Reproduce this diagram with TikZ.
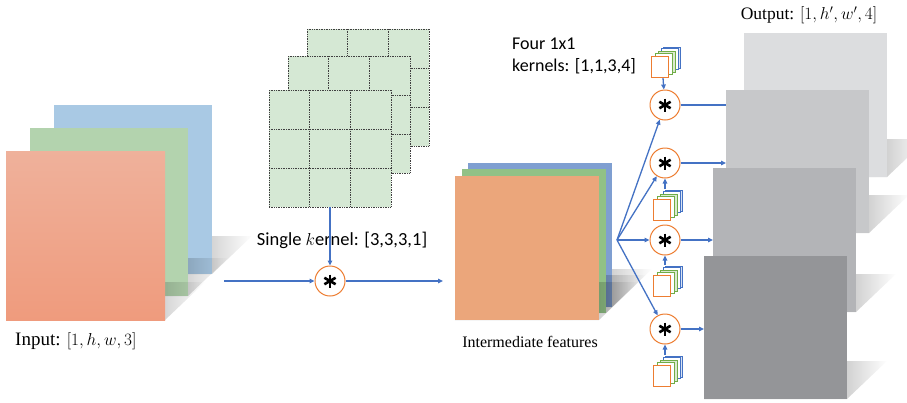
\documentclass[tikz,border=0pt]{standalone}
\usepackage{fontspec}
\setmainfont{Carlito}
\newfontfamily\serif{Liberation Serif}
\usetikzlibrary{arrows.meta,fadings}

\definecolor{linkblue}{HTML}{4472C4}
\definecolor{convorange}{HTML}{ED7D31}
\definecolor{inblue}{HTML}{A9C9E4}
\definecolor{ingreen}{HTML}{B3D3AE}
\definecolor{inorangetop}{HTML}{EFB19B}
\definecolor{inorangebot}{HTML}{EF9B7D}
\definecolor{kerngreen}{HTML}{D5E8D4}
\definecolor{midblue}{HTML}{7F9FD1}
\definecolor{midgreen}{HTML}{91C186}
\definecolor{midorange}{HTML}{EBA67B}
\definecolor{outA}{HTML}{DCDDDF}
\definecolor{outB}{HTML}{C7C8CA}
\definecolor{outC}{HTML}{B3B4B7}
\definecolor{outD}{HTML}{949598}
\definecolor{cubegreen}{HTML}{70AD47}

% soft cast shadow: opaque on the left, dying out towards the right
\pgfdeclarehorizontalshading{shadowmask}{100bp}{color(0bp)=(transparent!0); color(25bp)=(transparent!0); color(52bp)=(transparent!15); color(64bp)=(transparent!45); color(75bp)=(transparent!100); color(100bp)=(transparent!100)}
\pgfdeclarefading{shadowfade}{\pgfuseshading{shadowmask}}

\tikzset{
  panelbox/.style={rectangle, inner sep=0pt, outer sep=0pt, draw=none, anchor=north west},
  shadowfill/.style={fill=black, opacity=0.32, path fading=shadowfade},
  link/.style={draw=linkblue, line width=1.3pt},
  linkarrow/.style={link, -{Triangle[length=5pt,width=4.5pt]}},
  convnode/.style={circle, draw=convorange, line width=1pt, fill=white, minimum size=30pt, inner sep=0pt},
  asteriskarm/.style={line width=2.6pt, black},
  gridline/.style={densely dotted, draw=black!75, line width=0.7pt},
  cubeface/.style={line width=0.8pt, fill=white},
}

% panel: name, x0, y0, x1, y1, extra style
\newcommand\panel[6]{%
  \node[panelbox, minimum width={#4pt-#2pt}, minimum height={#5pt-#3pt}, #6] (#1) at (#2,#3) {};}
% cast shadow under a panel: x0, x1, bottom y
\newcommand\castshadow[3]{%
  \fill[shadowfill] (#1,#3) -- (#2,#3) -- ({#2+40},{#3-38}) -- ({#1+40},{#3-38}) -- cycle;}
% 3x3 kernel slice: name, x0, y0
\newcommand\kernelslice[3]{%
  \node[panelbox, fill=kerngreen, minimum width=122pt, minimum height=117pt] (#1) at (#2,#3) {};
  \foreach \i in {0,1,2,3} {
    \draw[gridline] ({#2+\i*122/3},#3) -- ({#2+\i*122/3},{#3+117});
    \draw[gridline] (#2,{#3+\i*39}) -- ({#2+122},{#3+\i*39});
  }}
% convolution operator: name, position
\newcommand\convop[2]{%
  \node[convnode] (#1) at (#2) {};
  \foreach \a in {90,30,150}
    \draw[asteriskarm] ([shift={(\a:6.5pt)}]#1.center) -- ([shift={(\a+180:6.5pt)}]#1.center);}
% stack of four 1x1 kernels: name, x, y of the front face
\newcommand\kcube[3]{%
  \begin{scope}[shift={(#2,#3)}]
    \draw[cubeface, draw=linkblue, fill=linkblue!20] (12,-9) rectangle ++(17,21);
    \draw[cubeface, draw=linkblue] (10,-7.5) rectangle ++(17,21);
    \draw[cubeface, draw=cubegreen, fill=cubegreen!25] (7,-5) rectangle ++(17,21);
    \draw[cubeface, draw=cubegreen] (4,-2.5) rectangle ++(17,21);
    \draw[cubeface, draw=convorange] (0,0) rectangle ++(17,21);
  \end{scope}
  \coordinate (#1top) at ({#2+12},{#3-10});
  \coordinate (#1bot) at ({#2+12},{#3+22});}

\begin{document}
\begin{tikzpicture}[x=1pt, y=-1pt]
\fill[white] (0,0) rectangle (907,402);
\useasboundingbox (0,0) rectangle (907,402);

% ---------- input tensor ----------
\castshadow{54}{212}{274}
\panel{inB}{54}{105}{212}{274}{fill=inblue}
\castshadow{30}{188}{296}
\panel{inG}{30}{128}{188}{296}{fill=ingreen}
\castshadow{6}{165}{320}
\panel{inO}{6}{151}{165}{320}{top color=inorangetop, bottom color=inorangebot}
\node[font=\serif\fontsize{19}{22}\selectfont, anchor=west, inner sep=0pt] (inlbl) at (15,341) {Input: $[1,h,w,3]$};

% ---------- single 3x3x3 kernel ----------
\kernelslice{kA}{307}{29}
\kernelslice{kB}{288}{56}
\kernelslice{kC}{269}{90}
\node[font=\fontsize{18.5}{22}\selectfont] (klbl) at (342,240) {Single $k$ernel: [3,3,3,1]};

\convop{conv}{330,281}
\coordinate (inout) at (224,281);
\coordinate (midin) at (443,281);
\draw[linkarrow] (inout) -- (conv);
\draw[linkarrow] (kC.south -| conv) -- (conv);
\draw[linkarrow] (conv) -- (midin);

% ---------- intermediate features ----------
\castshadow{468}{612}{307}
\panel{mB}{468}{163}{612}{307}{fill=midblue}
\castshadow{462}{606}{313}
\panel{mG}{462}{169}{606}{313}{fill=midgreen}
\castshadow{455}{599}{320}
\panel{mO}{455}{176}{599}{320}{fill=midorange}
\node[font=\serif\fontsize{16}{19}\selectfont] (midlbl) at (530,342) {Intermediate features};

% ---------- output tensor ----------
\castshadow{744}{887}{177}
\panel{o1}{744}{33}{887}{177}{fill=outA}
\castshadow{726}{869}{233}
\panel{o2}{726}{90}{869}{233}{fill=outB}
\castshadow{713}{856}{312}
\panel{o3}{713}{168}{856}{312}{fill=outC}
\castshadow{704}{847}{399}
\panel{o4}{704}{256}{847}{399}{fill=outD}
\node[font=\serif\fontsize{17.5}{20}\selectfont] (outlbl) at (809,15) {Output: $[1,h',w',4]$};

% ---------- four 1x1 convolutions ----------
\node[font=\fontsize{18}{22}\selectfont, anchor=north west, align=left, inner sep=0pt] (fourlbl) at (512,38) {Four 1x1\\kernels: [1,1,3,4]};

\coordinate (split) at (617,240);
\convop{c1}{665,105}
\convop{c2}{665,163}
\convop{c3}{665,240}
\convop{c4}{665,329}

\kcube{q1}{651}{56}
\kcube{q2}{653}{199}
\kcube{q3}{653}{275}
\kcube{q4}{653}{365}

\draw[linkarrow] (q1bot) -- (c1);
\draw[linkarrow] (q2top) -- (c2);
\draw[linkarrow] (q3top) -- (c3);
\draw[linkarrow] (q4top) -- (c4);

\foreach \c in {c1,c2,c3,c4}
  \draw[linkarrow] (split) -- (\c);

\draw[link] (c1) -- (c1 -| o2.west);
\draw[linkarrow] (c2) -- (c2 -| o2.west);
\draw[linkarrow] (c3) -- (c3 -| o3.west);
\draw[linkarrow] (c4) -- (c4 -| o4.west);
\end{tikzpicture}
\end{document}
